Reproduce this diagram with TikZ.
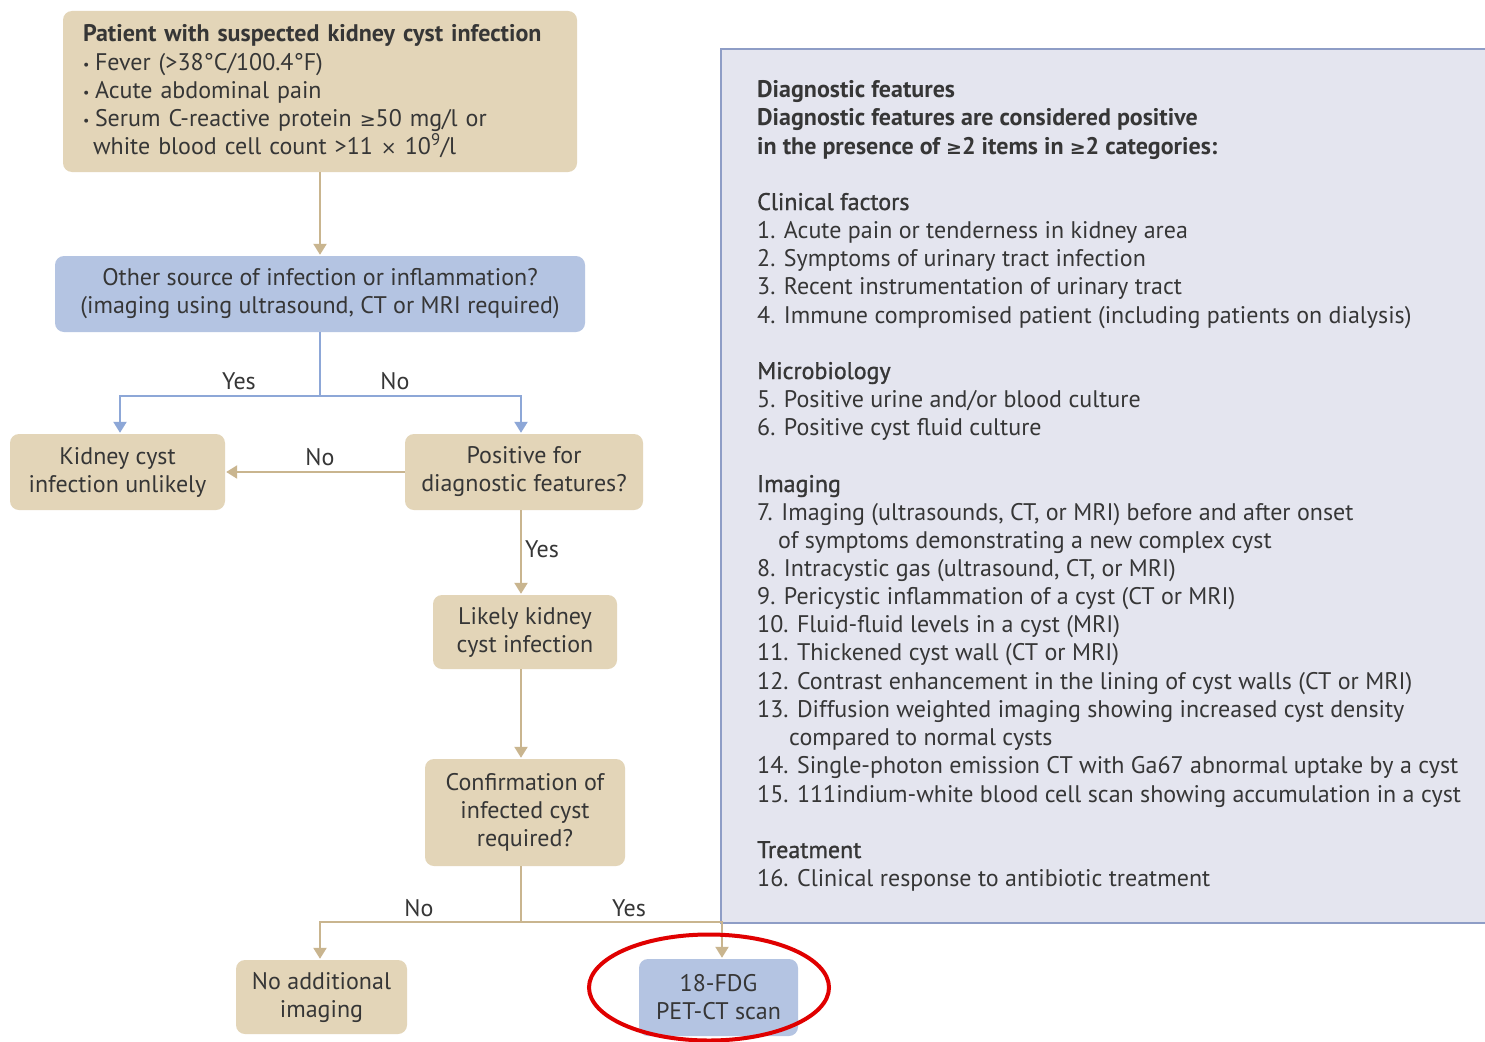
\documentclass[tikz,border=0pt]{standalone}
\usepackage{fontspec}
\setmainfont{PT Sans}
\newfontfamily\symfont{DejaVu Sans}
\newfontfamily\semibf[FakeBold=1.2]{PT Sans}
\usetikzlibrary{arrows.meta}
\definecolor{tanfill}{HTML}{E3D5B8}
\definecolor{bluefill}{HTML}{B4C4E2}
\definecolor{tanline}{HTML}{C9B58F}
\definecolor{blueline}{HTML}{8DA7D7}
\definecolor{panelfill}{HTML}{E4E5EF}
\definecolor{panelline}{HTML}{8E9DC6}
\definecolor{txt}{HTML}{363636}
\definecolor{markred}{HTML}{E00000}
\newcommand{\geqsym}{{\symfont\fontsize{19}{19}\selectfont ≥}}
\newcommand{\timessym}{{\symfont\fontsize{19}{19}\selectfont ×}}
\newcommand{\bul}{\makebox[12pt][l]{\raisebox{1pt}{\fontsize{14}{14}\selectfont •}}}
\tikzset{
  basefont/.style={font=\fontsize{24}{28}\selectfont, text=txt},
  box/.style={basefont, rounded corners=9pt, inner sep=0pt, align=center},
  tanbox/.style={box, fill=tanfill},
  bluebox/.style={box, fill=bluefill},
  tanarrow/.style={draw=tanline, line width=2.2pt, -{Triangle[width=13pt,length=11pt]}, shorten >=1pt},
  bluearrow/.style={draw=blueline, line width=2.2pt, -{Triangle[width=13pt,length=11pt]}, shorten >=1pt},
  tanlink/.style={draw=tanline, line width=2.2pt},
  bluelink/.style={draw=blueline, line width=2.2pt},
  lbl/.style={basefont, inner sep=0pt},
  paneltext/.style={basefont, inner sep=0pt, anchor=base west}
}
\begin{document}
\begin{tikzpicture}[x=1pt,y=-1pt]
\useasboundingbox (0,0) rectangle (1485,1041);
\fill[white] (0,0) rectangle (1485,1041);

% side panel with the diagnostic criteria
\fill[panelfill] (721,49) rectangle (1485,923);
\draw[panelline, line width=2.5pt] (1485,49) -- (721,49) -- (721,923) -- (1485,923);

\foreach \yy/\xx/\tt [count=\i] in {
  97/757/{\bfseries Diagnostic features},
  125/757/{\bfseries Diagnostic features are considered positive},
  154/757/{\bfseries in the presence of \geqsym2 items in \geqsym2 categories:},
  210/757/{\semibf Clinical factors},
  238/757/{1. Acute pain or tenderness in kidney area},
  266/757/{2. Symptoms of urinary tract infection},
  294/757/{3. Recent instrumentation of urinary tract},
  323/757/{4. Immune compromised patient (including patients on dialysis)},
  379/757/{\semibf Microbiology},
  407/757/{5. Positive urine and/or blood culture},
  435/757/{6. Positive cyst fluid culture},
  492/757/{\semibf Imaging},
  520/757/{7. Imaging (ultrasounds, CT, or MRI) before and after onset},
  548/778/{of symptoms demonstrating a new complex cyst},
  576/757/{8. Intracystic gas (ultrasound, CT, or MRI)},
  604/757/{9. Pericystic inflammation of a cyst (CT or MRI)},
  632/757/{10. Fluid-fluid levels in a cyst (MRI)},
  660/757/{11. Thickened cyst wall (CT or MRI)},
  689/757/{12. Contrast enhancement in the lining of cyst walls (CT or MRI)},
  717/757/{13. Diffusion weighted imaging showing increased cyst density},
  745/789/{compared to normal cysts},
  773/757/{14. Single-photon emission CT with Ga67 abnormal uptake by a cyst},
  802/757/{15. 111indium-white blood cell scan showing accumulation in a cyst},
  858/757/{\semibf Treatment},
  886/757/{16. Clinical response to antibiotic treatment}}
  \node[paneltext] (pl\i) at (\xx,\yy) {\tt};

% flowchart boxes
\node[tanbox, minimum width=514pt, minimum height=161pt, text width=474pt, align=left] (start) at (320,91.5)
  {{\bfseries Patient with suspected kidney cyst infection}\\[1pt]
   \bul Fever (>38°C/100.4°F)\\
   \bul Acute abdominal pain\\
   \bul Serum C-reactive protein \geqsym50 mg/l or\\
   \hspace*{10pt}white blood cell count >11 \timessym{} 10\textsuperscript{9}/l};
\node[bluebox, minimum width=530pt, minimum height=76pt] (other) at (320,294)
  {Other source of infection or inflammation?\\(imaging using ultrasound, CT or MRI required)};
\node[tanbox, minimum width=215pt, minimum height=76pt] (unlikely) at (117.5,472)
  {Kidney cyst\\infection unlikely};
\node[tanbox, minimum width=238pt, minimum height=76pt] (positive) at (524,472)
  {Positive for\\diagnostic features?};
\node[tanbox, minimum width=184pt, minimum height=74pt] (likely) at (525,632)
  {Likely kidney\\cyst infection};
\node[tanbox, minimum width=200pt, minimum height=107pt] (confirm) at (525,812.5)
  {Confirmation of\\infected cyst\\required?};
\node[tanbox, minimum width=171pt, minimum height=74pt] (noimg) at (321.5,997)
  {No additional\\imaging};
\node[bluebox, minimum width=159pt, minimum height=77pt] (pet) at (718.5,997.5)
  {18-FDG\\PET-CT scan};

% connectors
\draw[tanarrow] (start.south) -- (other.north);
\draw[bluelink] (other.south) -- ++(0,64) coordinate (osplit);
\draw[bluearrow] (osplit) -| ([xshift=2.5pt]unlikely.north);
\draw[bluearrow] (osplit) -| ([xshift=-3pt]positive.north);
\draw[tanarrow] (positive.west) -- (unlikely.east);
\draw[tanarrow] ([xshift=-3pt]positive.south) -- ([xshift=-4pt]likely.north);
\draw[tanarrow] ([xshift=-4pt]likely.south) -- ([xshift=-4pt]confirm.north);
\draw[tanlink] ([xshift=-4pt]confirm.south) -- ++(0,56) coordinate (csplit);
\draw[tanarrow] (csplit) -| ([xshift=-1.5pt]noimg.north);
\draw[tanarrow] (csplit) -| ([xshift=3.5pt]pet.north);

% branch labels
\node[lbl] (l1) at (239,381) {Yes};
\node[lbl] (l2) at (395,381) {No};
\node[lbl] (l3) at (320,457) {No};
\node[lbl] (l4) at (542,549) {Yes};
\node[lbl] (l5) at (419,908) {No};
\node[lbl] (l6) at (629,908) {Yes};

% highlight ring
\draw[markred, line width=4pt] ([xshift=-9.5pt,yshift=10pt]pet.center) ellipse [x radius=120, y radius=53];
\end{tikzpicture}
\end{document}
